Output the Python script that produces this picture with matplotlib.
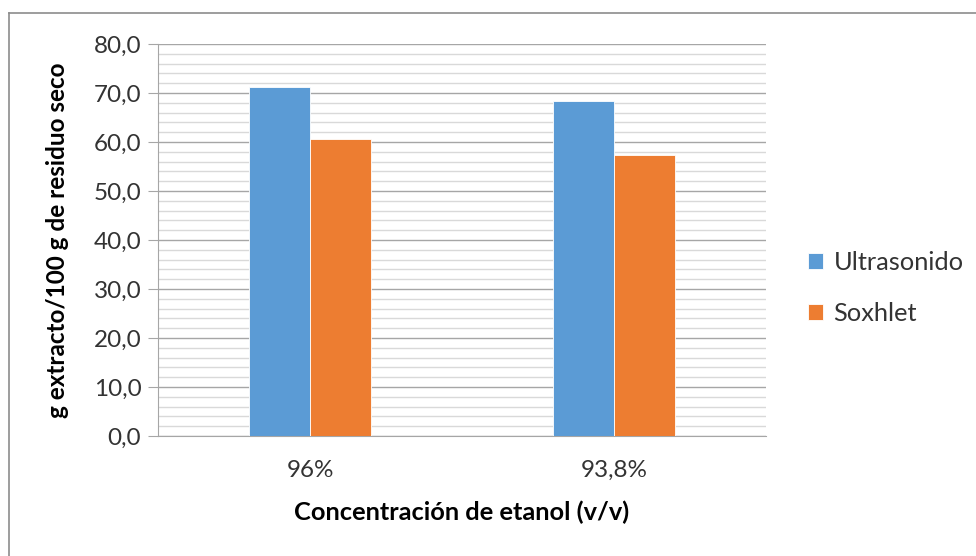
import matplotlib
matplotlib.use("Agg")
import matplotlib.pyplot as plt
import numpy as np
from matplotlib.lines import Line2D

# Data
categorias = ["96%", "93,8%"]
ultrasonido = [71.2, 68.3]
soxhlet = [60.6, 57.3]
series_names = ["Ultrasonido", "Soxhlet"]

plt.rcParams['font.family'] = ['Lato', 'DejaVu Sans']

fig = plt.figure(figsize=(9.76, 5.56), dpi=100)
ax = fig.add_axes([0.1619, 0.2158, 0.623, 0.7051])

x = np.arange(len(categorias))
w = 0.2
ax.bar(x - w/2, ultrasonido, w, color='#5B9BD5', edgecolor='white', linewidth=0.6,
       label=series_names[0], zorder=3)
ax.bar(x + w/2, soxhlet, w, color='#ED7D31', edgecolor='white', linewidth=0.6,
       label=series_names[1], zorder=3)

ax.set_xlim(-0.5, len(categorias) - 0.5)
ax.set_ylim(0, 80)
ax.set_yticks(np.arange(0, 81, 10))
ax.set_yticks(np.arange(0, 81, 2), minor=True)
ax.set_yticklabels([f"{v:.1f}".replace('.', ',') for v in np.arange(0, 81, 10)])
ax.set_xticks(x)
ax.set_xticklabels(categorias)

# grid lines (Excel style)
ax.grid(axis='y', which='major', color='#A6A6A6', linewidth=1.0, zorder=0)
ax.grid(axis='y', which='minor', color='#D9D9D9', linewidth=1.0, zorder=0)

for s in ['top', 'right']:
    ax.spines[s].set_visible(False)
ax.spines['left'].set_color('#A6A6A6')
ax.spines['bottom'].set_color('#A6A6A6')
ax.tick_params(axis='y', which='major', length=7, color='#A6A6A6', labelsize=17.5,
               labelcolor='#333333', pad=5)
ax.tick_params(axis='y', which='minor', length=0)
ax.tick_params(axis='x', length=0, labelsize=17.5, labelcolor='#333333', pad=17)

ax.set_ylabel("g extracto/100 g de residuo seco", fontsize=17.5, fontweight='bold',
              labelpad=18)
ax.set_xlabel("Concentración de etanol (v/v)", fontsize=18.3, fontweight='bold',
              labelpad=14)

ax.legend(loc='center left', bbox_to_anchor=(808/976, 1 - 288/556),
          bbox_transform=fig.transFigure, frameon=False, fontsize=18.3,
          handlelength=0.6, handleheight=0.6, handletextpad=0.4, labelspacing=1.1,
          borderpad=0, borderaxespad=0, labelcolor='#333333')

# outer chart border (left and top edges are visible)
fig.add_artist(Line2D([9/976, 9/976], [0, 1 - 13/556], transform=fig.transFigure,
                      color='#8C8C8C', linewidth=1.2))
fig.add_artist(Line2D([9/976, 1], [1 - 13/556, 1 - 13/556], transform=fig.transFigure,
                      color='#8C8C8C', linewidth=1.2))

fig.savefig("out.png", dpi=100)
